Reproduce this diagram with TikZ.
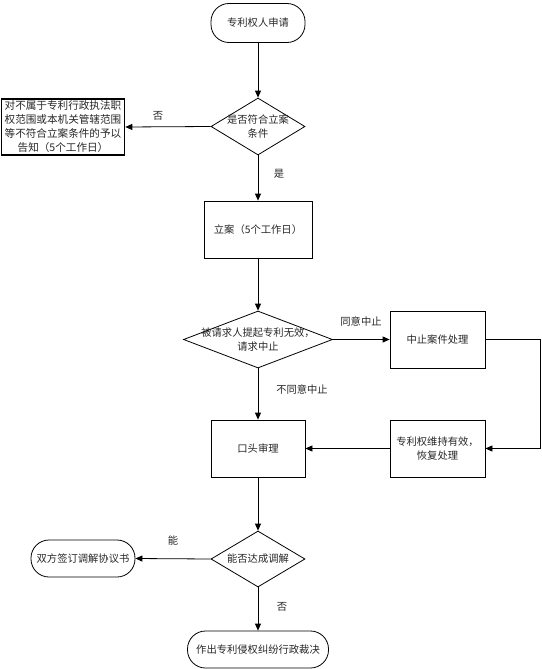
\documentclass[tikz,border=0pt]{standalone}
\usepackage{fontspec}
\setmainfont{Noto Sans CJK SC}
\usetikzlibrary{shapes.geometric,arrows.meta}
\begin{document}
\begin{tikzpicture}[x=1pt,y=-1pt,
  every node/.style={font=\fontsize{10.3pt}{14pt}\selectfont, text=black!85, inner sep=0pt},
  stadium/.style={draw, line width=0.8pt, rounded corners=18pt, align=center},
  procbox/.style={draw, line width=0.8pt, align=center},
  decision/.style={draw, line width=0.8pt, diamond, aspect=1},
  lbl/.style={font=\fontsize{10.3pt}{12pt}\selectfont},
  flow/.style={line width=0.8pt, -{Triangle[length=7pt,width=6pt]}}
]
\useasboundingbox (0,0) rectangle (541,669);
% nodes
\node[stadium, minimum width=94pt, minimum height=39pt] (start) at (258,23) {专利权人申请};
\node[decision, minimum width=94pt, minimum height=57pt,
      label={[align=center,name=d1t]center:是否符合立案\\条件}] (d1) at (258,126.5) {};
\node[procbox, line width=1.6pt, minimum width=123pt, minimum height=56pt,
      font=\fontsize{10.6pt}{14pt}\selectfont] (reject) at (63,127)
  {对不属于专利行政执法职\\权范围或本机关管辖范围\\等不符合立案条件的予以\\告知（5个工作日）};
\node[procbox, minimum width=108pt, minimum height=57pt] (lian) at (258,229.5) {立案（5个工作日）};
\node[decision, minimum width=149pt, minimum height=57pt,
      label={[align=center,name=d2t]center:被请求人提起专利无效，\\请求中止}] (d2) at (258,339.5) {};
\node[procbox, minimum width=95pt, minimum height=57pt] (zz) at (437.5,339.5) {中止案件处理};
\node[procbox, minimum width=95pt, minimum height=57pt] (wc) at (437.5,448.5) {专利权维持有效，\\恢复处理};
\node[procbox, minimum width=94pt, minimum height=57pt] (kt) at (258,448.5) {口头审理};
\node[decision, minimum width=94pt, minimum height=56pt,
      label={[align=center,name=d3t]center:能否达成调解}] (d3) at (258,559) {};
\node[stadium, minimum width=104pt, minimum height=37pt] (xy) at (83,558.5) {双方签订调解协议书};
\node[stadium, minimum width=141pt, minimum height=37pt] (cj) at (258,649.5) {作出专利侵权纠纷行政裁决};
% labels
\node[lbl] (l1) at (158,116) {否};
\node[lbl] (l2) at (279,174) {是};
\node[lbl] (l3) at (361,322) {同意中止};
\node[lbl] (l4) at (302,390) {不同意中止};
\node[lbl] (l5) at (173,541) {能};
\node[lbl] (l6) at (282,607) {否};
\coordinate (rc) at (540.5,339.5);
% connectors
\draw[flow] (start) -- (d1.north);
\draw[flow] (d1.west) -- (reject.east);
\draw[flow] (d1.south) -- (lian.north);
\draw[flow] (lian.south) -- (d2.north);
\draw[flow] (d2.east) -- (zz.west);
\draw[flow] (zz.east) -- (rc) |- (wc.east);
\draw[flow] (wc.west) -- (kt.east);
\draw[flow] (d2.south) -- (kt.north);
\draw[flow] (kt.south) -- (d3.north);
\draw[flow] (d3.west) -- (xy.east);
\draw[flow] (d3.south) -- (cj.north);
\end{tikzpicture}
\end{document}
